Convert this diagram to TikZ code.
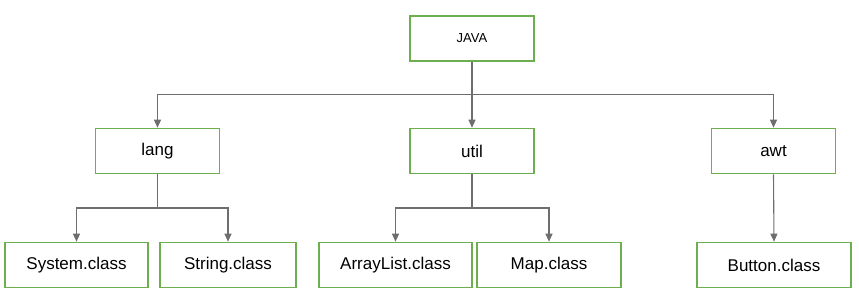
\documentclass[tikz,border=0pt]{standalone}
\usepackage{fontspec}
\setmainfont{Liberation Sans}
\usetikzlibrary{arrows.meta,positioning,calc}
\definecolor{boxgreen}{HTML}{6DAE4F}
\definecolor{wire}{HTML}{6E6E6E}

\begin{document}
\begin{tikzpicture}[
    x=1pt, y=-1pt,
    font=\fontsize{17}{20}\selectfont,
    pkg/.style={
        draw=boxgreen, line width=1.6pt, fill=white,
        minimum height=45pt, minimum width=124pt,
        inner sep=2pt
    },
    cls/.style={
        pkg, minimum width=144pt
    },
    wireline/.style={
        draw=wire, line width=1.1pt
    },
    arrow/.style={
        wireline, -{Triangle[length=8pt, width=7pt]}
    }
]
\useasboundingbox (0,0) rectangle (859,305);

% --- root ---
\node[pkg, font=\fontsize{13}{15}\selectfont] (java) at (472,38.5) {JAVA};

% --- packages ---
\node[pkg] (lang) at (157.5,151) {lang};
\node[pkg] (util) at (472,151)   {util};
\node[pkg] (awt)  at (773.5,151) {awt};

% --- classes ---
\node[cls, minimum width=143pt] (system)    at (76.5,265)  {System.class};
\node[cls, minimum width=136pt] (string)    at (228,265)   {String.class};
\node[cls, minimum width=153pt] (arraylist) at (395.5,265) {ArrayList.class};
\node[cls, minimum width=144pt] (map)       at (549,265)   {Map.class};
\node[cls, minimum width=154pt] (button)    at (774,265)   {Button.class};

% --- root to packages ---
\coordinate (jbus) at ($(java.south)!0.5!(util.north)$);
\draw[arrow] (java.south) -- (util.north);
\draw[arrow] (jbus) -| (lang.north);
\draw[arrow] (jbus) -| (awt.north);

% --- lang ---
\coordinate (lbus) at ($(lang.south)!0.5!(lang.south|-system.north)$);
\draw[wireline] (lang.south) -- (lbus);
\draw[arrow] (lbus) -| (system.north);
\draw[arrow] (lbus) -| (string.north);

% --- util ---
\coordinate (ubus) at ($(util.south)!0.5!(util.south|-map.north)$);
\draw[wireline] (util.south) -- (ubus);
\draw[arrow] (ubus) -| (arraylist.north);
\draw[arrow] (ubus) -| (map.north);

% --- awt ---
\draw[arrow] (awt.south) -- (button.north);

\end{tikzpicture}
\end{document}
